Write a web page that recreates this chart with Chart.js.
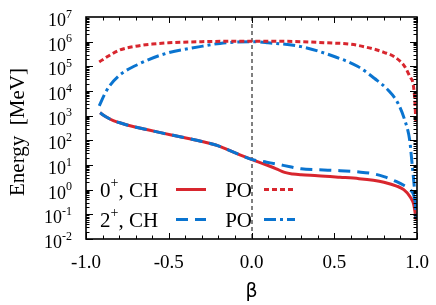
<!DOCTYPE html>
<html>
<head>
<meta charset="utf-8">
<script src="https://cdn.jsdelivr.net/npm/chart.js@4"></script>
<style>
  html, body { margin: 0; padding: 0; background: #fff; }
</style>
</head>
<body>
<canvas id="c" width="436" height="305"></canvas>
<script>
// curve data
const betaCH0 = [-0.915, -0.88, -0.835, -0.78, -0.734, -0.65, -0.55, -0.432, -0.3, -0.2, -0.13, -0.07, 0, 0.092, 0.15, 0.2, 0.25, 0.3, 0.4, 0.535, 0.65, 0.736, 0.8, 0.877, 0.92, 0.958, 0.98, 0.995];
const ch0 = [1300, 900, 630, 480, 390, 290, 205, 140, 90, 60, 38, 26, 17, 10, 7, 5, 4.3, 4.0, 3.7, 3.2, 2.8, 2.4, 2.0, 1.4, 1.0, 0.52, 0.25, 0.06];

const betaCH2 = [-0.915, -0.88, -0.835, -0.78, -0.734, -0.65, -0.55, -0.432, -0.3, -0.2, -0.13, -0.07, 0, 0.092, 0.15, 0.233, 0.3, 0.4, 0.535, 0.65, 0.736, 0.8, 0.877, 0.92, 0.958, 0.98, 0.993];
const ch2 = [1300, 900, 630, 480, 390, 290, 205, 140, 90, 60, 38, 26, 17, 13, 11, 8.5, 7, 6.4, 5.9, 5.2, 4.4, 3.4, 2.1, 1.5, 1.0, 0.6, 0.2];

const betaPO0 = [-0.92, -0.87, -0.795, -0.7, -0.6, -0.5, -0.3, 0, 0.3, 0.45, 0.603, 0.744, 0.8, 0.865, 0.926, 0.96, 0.975, 0.986, 0.994];
const po0 = [1.5e5, 2.5e5, 4.6e5, 6.5e5, 8e5, 9e5, 1e6, 1.05e6, 1e6, 9e5, 7.8e5, 4.9e5, 3.7e5, 2.4e5, 9.8e4, 3.5e4, 2.2e4, 5e3, 400];

const betaPO2 = [-0.92, -0.885, -0.855, -0.795, -0.674, -0.512, -0.311, -0.19, 0, 0.1, 0.3, 0.5, 0.643, 0.744, 0.825, 0.885, 0.926, 0.956, 0.968, 0.988, 0.995];
const po2 = [2.5e3, 8e3, 1.7e4, 4.5e4, 1.3e5, 3.4e5, 6.3e5, 8.5e5, 1e6, 9e5, 6.3e5, 2.5e5, 9.8e4, 3.2e4, 1.1e4, 3.2e3, 660, 100, 16, 0.5, 0.06];

const xTicks = [-1, -0.5, 0, 0.5, 1];
const xTickLabels = ['-1.0', '-0.5', '0.0', '0.5', '1.0'];
const yExponents = [-2, -1, 0, 1, 2, 3, 4, 5, 6, 7];

const RED = '#d8262e';
const BLUE = '#0a74d0';
const SERIF = '"Liberation Serif", "DejaVu Serif", serif';

function pts(xs, ys){ return xs.map((x, i) => ({x, y: ys[i]})); }

function line(label, xs, ys, color, dash, order){
  return {
    label, data: pts(xs, ys), borderColor: color, borderWidth: 3,
    borderDash: dash, pointRadius: 0, fill: false,
    cubicInterpolationMode: 'monotone', order
  };
}

// frame, inward ticks, tick labels, titles and legend
const decor = {
  id: 'decor',
  beforeDatasetsDraw(chart){
    const {ctx, chartArea: a, scales: {x}} = chart;
    const x0 = x.getPixelForValue(0);
    ctx.save();
    ctx.strokeStyle = '#000'; ctx.lineWidth = 1; ctx.setLineDash([4, 3]);
    ctx.beginPath(); ctx.moveTo(x0 + 0.5, a.top); ctx.lineTo(x0 + 0.5, a.bottom); ctx.stroke();
    ctx.restore();
  },
  afterDraw(chart){
    const {ctx, chartArea: a, scales: {x, y}} = chart;
    ctx.save();
    ctx.strokeStyle = '#000'; ctx.lineWidth = 1;
    ctx.beginPath();
    for(let i = -10; i <= 10; i++){
      const px = Math.round(x.getPixelForValue(i / 10)) + 0.5;
      const len = (i % 5 === 0) ? 6 : 3.5;
      ctx.moveTo(px, a.bottom); ctx.lineTo(px, a.bottom - len);
      ctx.moveTo(px, a.top); ctx.lineTo(px, a.top + len);
    }
    for(let e = -2; e <= 6; e++){
      for(let k = 1; k <= 9; k++){
        const py = Math.round(y.getPixelForValue(k * Math.pow(10, e))) + 0.5;
        const len = k === 1 ? 7 : 3.5;
        ctx.moveTo(a.left, py); ctx.lineTo(a.left + len, py);
        ctx.moveTo(a.right, py); ctx.lineTo(a.right - len, py);
      }
    }
    ctx.stroke();
    ctx.lineWidth = 1.6;
    ctx.strokeRect(a.left, a.top, a.right - a.left, a.bottom - a.top);

    ctx.fillStyle = '#000';
    // x tick labels
    ctx.font = '19px ' + SERIF;
    ctx.textAlign = 'center'; ctx.textBaseline = 'alphabetic';
    xTicks.forEach((t, i) => ctx.fillText(xTickLabels[i], x.getPixelForValue(t), 268));

    // y tick labels 10^n
    yExponents.forEach(e => {
      const py = y.getPixelForValue(Math.pow(10, e));
      const ex = String(e);
      ctx.font = '12px ' + SERIF;
      const we = ctx.measureText(ex).width;
      ctx.font = '18px ' + SERIF;
      const wb = ctx.measureText('10').width;
      const right = 72;
      ctx.textAlign = 'left'; ctx.textBaseline = 'alphabetic';
      ctx.fillText('10', right - we - wb, py + 9);
      ctx.font = '12px ' + SERIF;
      ctx.fillText(ex, right - we, py + 0.5);
    });

    // axis titles
    ctx.font = '19px "DejaVu Sans", sans-serif';
    ctx.textAlign = 'center'; ctx.textBaseline = 'middle';
    ctx.fillText('β', x.getPixelForValue(0), 292);
    ctx.save();
    ctx.translate(18, 132); ctx.rotate(-Math.PI / 2);
    ctx.font = '21px ' + SERIF;
    ctx.fillText('Energy  [MeV]', 0, 0);
    ctx.restore();

    // legend
    const rows = [
      {n: '0', y: 189.5, c: RED, d1: [], d2: [5, 3]},
      {n: '2', y: 219.5, c: BLUE, d1: [12, 7], d2: [12, 4, 3, 4]}
    ];
    rows.forEach(r => {
      ctx.textAlign = 'left'; ctx.textBaseline = 'alphabetic';
      let tx = 100;
      ctx.font = '21px ' + SERIF;
      ctx.fillText(r.n, tx, r.y + 7); tx += ctx.measureText(r.n).width;
      ctx.font = '14px ' + SERIF;
      ctx.fillText('+', tx, r.y - 3); tx += ctx.measureText('+').width;
      ctx.font = '21px ' + SERIF;
      ctx.fillText(', CH', tx, r.y + 7);
      ctx.textAlign = 'right';
      ctx.fillText('PO', 252, r.y + 7);
      ctx.strokeStyle = r.c; ctx.lineWidth = 3;
      ctx.setLineDash(r.d1);
      ctx.beginPath(); ctx.moveTo(176, r.y); ctx.lineTo(206, r.y); ctx.stroke();
      ctx.setLineDash(r.d2);
      ctx.beginPath(); ctx.moveTo(264, r.y); ctx.lineTo(295, r.y); ctx.stroke();
      ctx.setLineDash([]);
    });
    ctx.restore();
  }
};

new Chart(document.getElementById('c'), {
  type: 'line',
  data: {
    datasets: [
      line('PO 0+', betaPO0, po0, RED, [5, 3], 1),
      line('PO 2+', betaPO2, po2, BLUE, [12, 4, 3, 4], 2),
      line('CH 2+', betaCH2, ch2, BLUE, [12, 7], 3),
      line('CH 0+', betaCH0, ch0, RED, [], 4)
    ]
  },
  options: {
    responsive: false,
    devicePixelRatio: 1,
    animation: false,
    layout: { padding: { left: 86, right: 19, top: 17, bottom: 66 } },
    plugins: { legend: { display: false }, tooltip: { enabled: false } },
    scales: {
      x: { type: 'linear', min: -1, max: 1, display: false },
      y: { type: 'logarithmic', min: 0.01, max: 1e7, display: false }
    }
  },
  plugins: [decor]
});
</script>
</body>
</html>
